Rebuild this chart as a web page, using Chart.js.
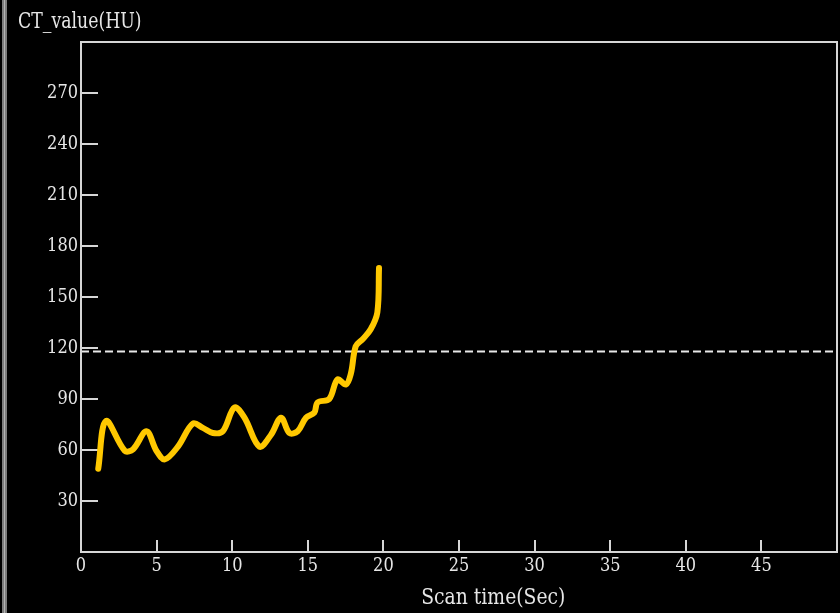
<!DOCTYPE html>
<html>
<head>
<meta charset="utf-8">
<script src="https://cdn.jsdelivr.net/npm/chart.js@4.4.1/dist/chart.umd.min.js"></script>
<style>
  html, body { margin: 0; padding: 0; background: #000; }
  #wrap { width: 840px; height: 613px; position: relative; }
</style>
</head>
<body>
<div id="wrap"><canvas id="ct"></canvas></div>
<script>
// Time-density curve of a contrast bolus scan
const scanTime = [1.14, 1.65, 2.9, 3.45, 4.33, 4.99, 5.54, 6.41, 7.4, 8.06, 8.72, 9.38,
  10.15, 10.81, 11.8, 12.57, 13.23, 13.78, 14.33, 14.88, 15.43, 15.65, 16.42, 16.96,
  17.52, 17.85, 18.17, 18.61, 19.16, 19.6, 19.71];
const ctValue = [49, 77, 59.5, 60.5, 71, 59.5, 54.5, 62, 75.5, 73, 70, 71,
  85, 79, 62, 69, 79, 70, 71, 79, 82, 88, 90, 101.5,
  98.5, 105, 121, 125, 131, 141, 167];
const triggerLevel = 118;
const xTickStep = 5;
const yTickStep = 30;
const xTitle = 'Scan time(Sec)';
const yTitle = 'CT_value(HU)';

const TEXT = '#e6e6e6';
const FONT = '"DejaVu Serif Condensed", "Liberation Serif", serif';

// draws a label squeezed horizontally into a narrow, tall face
function narrowText(ctx, text, x, y, size, widthPerChar) {
  ctx.save();
  ctx.font = size + 'px ' + FONT;
  const w = ctx.measureText(text).width;
  const target = widthPerChar * text.length;
  ctx.translate(x, y);
  ctx.scale(target / w, 1);
  ctx.fillStyle = TEXT;
  ctx.textAlign = 'left';
  ctx.textBaseline = 'middle';
  ctx.fillText(text, 0, 0);
  ctx.restore();
}

const frame = {
  id: 'frame',
  beforeDraw(chart) {
    const ctx = chart.ctx;
    ctx.save();
    ctx.fillStyle = '#000';
    ctx.fillRect(0, 0, chart.width, chart.height);
    ctx.fillStyle = '#7d7d7d';
    ctx.fillRect(2, 0, 5, chart.height);
    ctx.fillStyle = '#b4b4b4';
    ctx.fillRect(4, 0, 1, chart.height);
    ctx.restore();
  },
  afterDraw(chart) {
    const ctx = chart.ctx;
    const a = chart.chartArea;
    ctx.save();
    ctx.strokeStyle = '#d6d6d6';
    ctx.lineWidth = 2;
    ctx.strokeRect(a.left, a.top, a.right - a.left, a.bottom - a.top);
    ctx.restore();
    narrowText(ctx, yTitle, 18, 22, 22, 10.3);
    const xs = chart.scales.x;
    narrowText(ctx, xTitle, xs.getPixelForValue(22.5), 598, 22, 10.3);
  }
};

const chart = new Chart(document.getElementById('ct'), {
  type: 'line',
  data: {
    datasets: [
      {
        data: scanTime.map((t, i) => ({ x: t, y: ctValue[i] })),
        borderColor: '#ffc800',
        borderWidth: 6,
        borderCapStyle: 'round',
        borderJoinStyle: 'round',
        pointRadius: 0,
        tension: 0.35,
        fill: false
      },
      {
        data: [{ x: 0, y: triggerLevel }, { x: 50, y: triggerLevel }],
        borderColor: '#e8e8e8',
        borderWidth: 2,
        borderDash: [8, 4],
        pointRadius: 0,
        fill: false
      }
    ]
  },
  options: {
    responsive: true,
    maintainAspectRatio: false,
    animation: false,
    layout: { padding: { top: 42, right: 3, left: 0, bottom: 0 } },
    plugins: { legend: { display: false }, tooltip: { enabled: false }, title: { display: false } },
    scales: {
      x: {
        type: 'linear',
        min: 0, max: 50,
        afterFit(s) { s.height = 61; s.paddingLeft = 0; s.paddingRight = 0; },
        border: { display: true, color: '#d6d6d6', width: 2 },
        grid: { drawOnChartArea: false, drawTicks: true, tickLength: -12, color: '#d6d6d6', lineWidth: 2 },
        ticks: {
          stepSize: xTickStep, padding: 16, color: TEXT, maxRotation: 0,
          font: { family: FONT, size: 18 },
          callback: v => (v >= 50 ? '' : String(v))
        }
      },
      y: {
        type: 'linear',
        min: 0, max: 300,
        afterFit(s) { s.width = 81; s.paddingTop = 0; s.paddingBottom = 0; },
        border: { display: true, color: '#d6d6d6', width: 2 },
        grid: { drawOnChartArea: false, drawTicks: true, tickLength: -17, color: '#d6d6d6', lineWidth: 2 },
        ticks: {
          stepSize: yTickStep, padding: 20, color: TEXT,
          font: { family: FONT, size: 18 },
          callback: v => (v <= 0 || v >= 300 ? '' : String(v))
        }
      }
    }
  },
  plugins: [frame]
});
</script>
</body>
</html>
